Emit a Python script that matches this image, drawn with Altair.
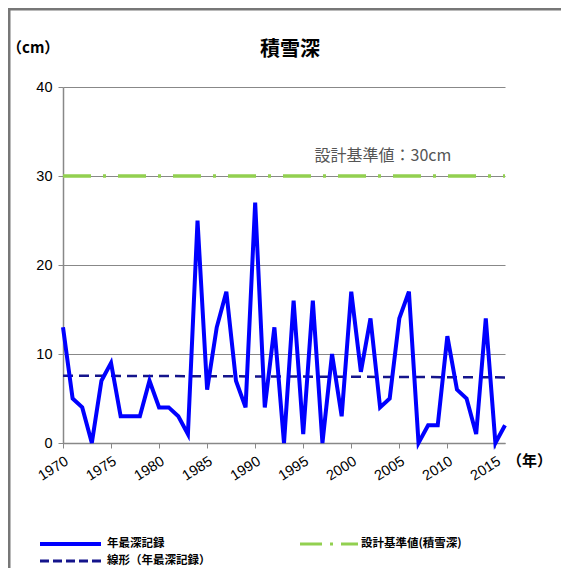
import altair as alt
import pandas as pd

years = list(range(1970, 2017))
depth = [13, 5, 4, 0, 7, 9, 3, 3, 3, 7,
         4, 4, 3, 1, 25, 6, 13, 17, 7, 4,
         27, 4, 13, 0, 16, 1, 16, 0, 10, 3,
         17, 8, 14, 4, 5, 14, 17, 0, 2, 2,
         12, 6, 5, 1, 14, 0, 2]
standard_value = 30
year_ticks = [1970, 1975, 1980, 1985, 1990, 1995, 2000, 2005, 2010, 2015]
y_ticks = [0, 10, 20, 30, 40]

df = pd.DataFrame({"year": years, "depth": depth})
std_df = pd.DataFrame({"year": [1970, 2016], "v": [standard_value, standard_value]})
lab_df = pd.DataFrame({"year": [2003.3], "v": [32.3], "t": ["設計基準値：30cm"]})

W, H = 442, 356
JP = "Noto Sans CJK JP"

xs = alt.Scale(domain=[1970, 2016], nice=False, zero=False)
ys = alt.Scale(domain=[0, 40], nice=False)

xaxis = alt.Axis(values=year_ticks, format="d", labelAngle=-32, labelFontSize=14.5,
                 labelFont="Liberation Sans", labelColor="black", grid=False,
                 tickColor="#888", tickSize=5, domainColor="#888", domainWidth=1.5,
                 labelPadding=6, title=None)
yaxis = alt.Axis(values=y_ticks, labelFontSize=14.5, labelFont="Liberation Sans",
                 labelColor="black", gridColor="#888", gridWidth=1.2,
                 tickColor="#888", tickSize=5, domainColor="#888", domainWidth=1.5,
                 labelPadding=6, title=None)

base = alt.Chart(df)

line = base.mark_line(color="#0000FF", strokeWidth=4, strokeJoin="miter").encode(
    x=alt.X("year:Q", scale=xs, axis=xaxis),
    y=alt.Y("depth:Q", scale=ys, axis=yaxis),
)

trend = base.transform_regression("year", "depth", method="linear", extent=[1970, 2016]).mark_line(
    color="#14148c", strokeWidth=2.5, strokeDash=[10, 6]
).encode(x=alt.X("year:Q", scale=xs), y=alt.Y("depth:Q", scale=ys))

std = alt.Chart(std_df).mark_line(color="#92D050", strokeWidth=3.5, strokeDash=[28, 12, 3, 12]).encode(
    x=alt.X("year:Q", scale=xs), y=alt.Y("v:Q", scale=ys)
)

std_label = alt.Chart(lab_df).mark_text(font=JP, fontSize=16, color="#555").encode(
    x=alt.X("year:Q", scale=xs), y=alt.Y("v:Q", scale=ys), text="t:N"
)

one = pd.DataFrame({"a": [0]})

def txt(s, x, y, size, weight="normal", align="left", color="black"):
    return alt.Chart(one).mark_text(text=s, font=JP, fontSize=size, fontWeight=weight,
                                    align=align, baseline="middle", color=color).encode(
        x=alt.value(x), y=alt.value(y))

title = txt("積雪深", 227, -37, 20, "bold", "center")
unit = txt("（cm）", -56, -39, 15, "bold")
nen = txt("（年）", 444, 374, 15, "bold")

frame = alt.Chart(one).mark_rect(fill=None, stroke="#777", strokeWidth=3).encode(
    x=alt.value(-54), y=alt.value(-78), x2=alt.value(620), y2=alt.value(620))

leg1 = alt.Chart(one).mark_rule(color="#0000FF", strokeWidth=4).encode(
    x=alt.value(-23), x2=alt.value(38), y=alt.value(457))
leg2 = alt.Chart(one).mark_rule(color="#14148c", strokeWidth=3, strokeDash=[9, 4]).encode(
    x=alt.value(-23), x2=alt.value(38), y=alt.value(474))
leg3 = alt.Chart(one).mark_rule(color="#92D050", strokeWidth=3, strokeDash=[22, 8, 3, 8]).encode(
    x=alt.value(237), x2=alt.value(295), y=alt.value(457))
lt1 = txt("年最深記録", 44, 457, 11.5, "bold")
lt2 = txt("線形（年最深記録）", 44, 474, 11.5, "bold")
lt3 = txt("設計基準値(積雪深)", 298, 457, 11.5, "bold")

chart = alt.layer(
    frame, std, trend, line, std_label, title, unit, nen, leg1, leg2, leg3, lt1, lt2, lt3
).properties(
    width=W, height=H,
    padding={"left": 55, "top": 79, "right": 56, "bottom": 125},
    autosize=alt.AutoSizeParams(type="none"),
).configure_view(stroke=None)

chart.save("out.html", embed_options={"renderer": "svg", "actions": False})
